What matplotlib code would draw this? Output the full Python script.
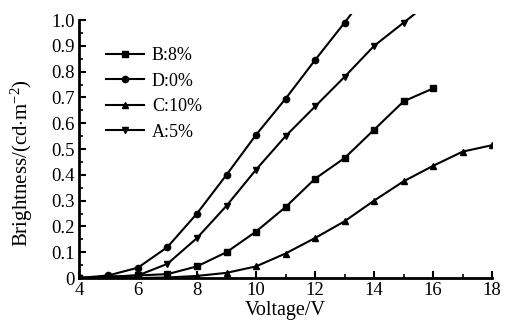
import matplotlib
matplotlib.use("Agg")
import matplotlib.pyplot as plt
from matplotlib.ticker import MultipleLocator
from matplotlib.transforms import Bbox, TransformedBbox

plt.rcParams['font.family'] = 'Liberation Serif'
plt.rcParams['mathtext.fontset'] = 'custom'
plt.rcParams['mathtext.rm'] = 'Liberation Serif'
plt.rcParams['mathtext.it'] = 'Liberation Serif'

# brightness vs voltage
volt_B = [4, 5, 6, 7, 8, 9, 10, 11, 12, 13, 14, 15, 16]
bright_B = [0, 0.005, 0.01, 0.015, 0.045, 0.10, 0.18, 0.275, 0.385, 0.465, 0.575, 0.685, 0.735]

volt_D = [4, 5, 6, 7, 8, 9, 10, 11, 12, 13, 14]
bright_D = [0, 0.01, 0.04, 0.12, 0.25, 0.40, 0.555, 0.695, 0.845, 0.99, 1.14]

volt_C = [4, 5, 6, 7, 8, 9, 10, 11, 12, 13, 14, 15, 16, 17, 18]
bright_C = [0, 0, 0, 0.002, 0.008, 0.02, 0.045, 0.095, 0.155, 0.22, 0.30, 0.375, 0.435, 0.49, 0.515]

volt_A = [4, 5, 6, 7, 8, 9, 10, 11, 12, 13, 14, 15, 16]
bright_A = [0, 0.005, 0.01, 0.055, 0.155, 0.28, 0.42, 0.55, 0.665, 0.78, 0.90, 0.99, 1.08]

fig = plt.figure(figsize=(5.09, 3.29), dpi=100)
ax = fig.add_axes([0.155, 0.155, 0.812, 0.784])

# curves run a little past the top of the axis in the original
clip = TransformedBbox(Bbox([[0, 0], [1, 1.025]]), ax.transAxes)

lines = []
lines += ax.plot(volt_B, bright_B, '-s', color='black', lw=1.5, ms=4.5, label='B:8%')
lines += ax.plot(volt_D, bright_D, '-o', color='black', lw=1.5, ms=4.5, label='D:0%')
lines += ax.plot(volt_C, bright_C, '-^', color='black', lw=1.5, ms=4.5, label='C:10%')
lines += ax.plot(volt_A, bright_A, '-v', color='black', lw=1.5, ms=4.5, label='A:5%')
for ln in lines:
    ln.set_clip_box(clip)

ax.set_xlim(4, 18)
ax.set_ylim(0, 1.0)
ax.xaxis.set_major_locator(MultipleLocator(2))
ax.xaxis.set_minor_locator(MultipleLocator(1))
ax.yaxis.set_minor_locator(MultipleLocator(0.05))
ax.set_yticks([0, 0.1, 0.2, 0.3, 0.4, 0.5, 0.6, 0.7, 0.8, 0.9, 1.0])
ax.set_yticklabels(['0', '0.1', '0.2', '0.3', '0.4', '0.5', '0.6', '0.7', '0.8', '0.9', '1.0'])

ax.spines['top'].set_visible(False)
ax.spines['right'].set_visible(False)
ax.spines['left'].set_linewidth(2)
ax.spines['bottom'].set_linewidth(2)
ax.tick_params(which='major', direction='in', length=5, width=1.5, labelsize=13.5, pad=3)
ax.tick_params(which='minor', direction='in', length=3, width=1.2)

ax.set_xlabel('Voltage/V', fontsize=14.5, labelpad=1)
ax.set_ylabel(r'Brightness/(cd$\cdot$m$^{-2}$)', fontsize=15)
ax.yaxis.set_label_coords(-0.1065, 0.446)

ax.legend(loc='upper left', bbox_to_anchor=(0.065, 0.895), frameon=False, fontsize=13,
          handlelength=2.1, handletextpad=0.45, labelspacing=0.47, borderpad=0,
          borderaxespad=0)

fig.savefig('out.png', dpi=100)
